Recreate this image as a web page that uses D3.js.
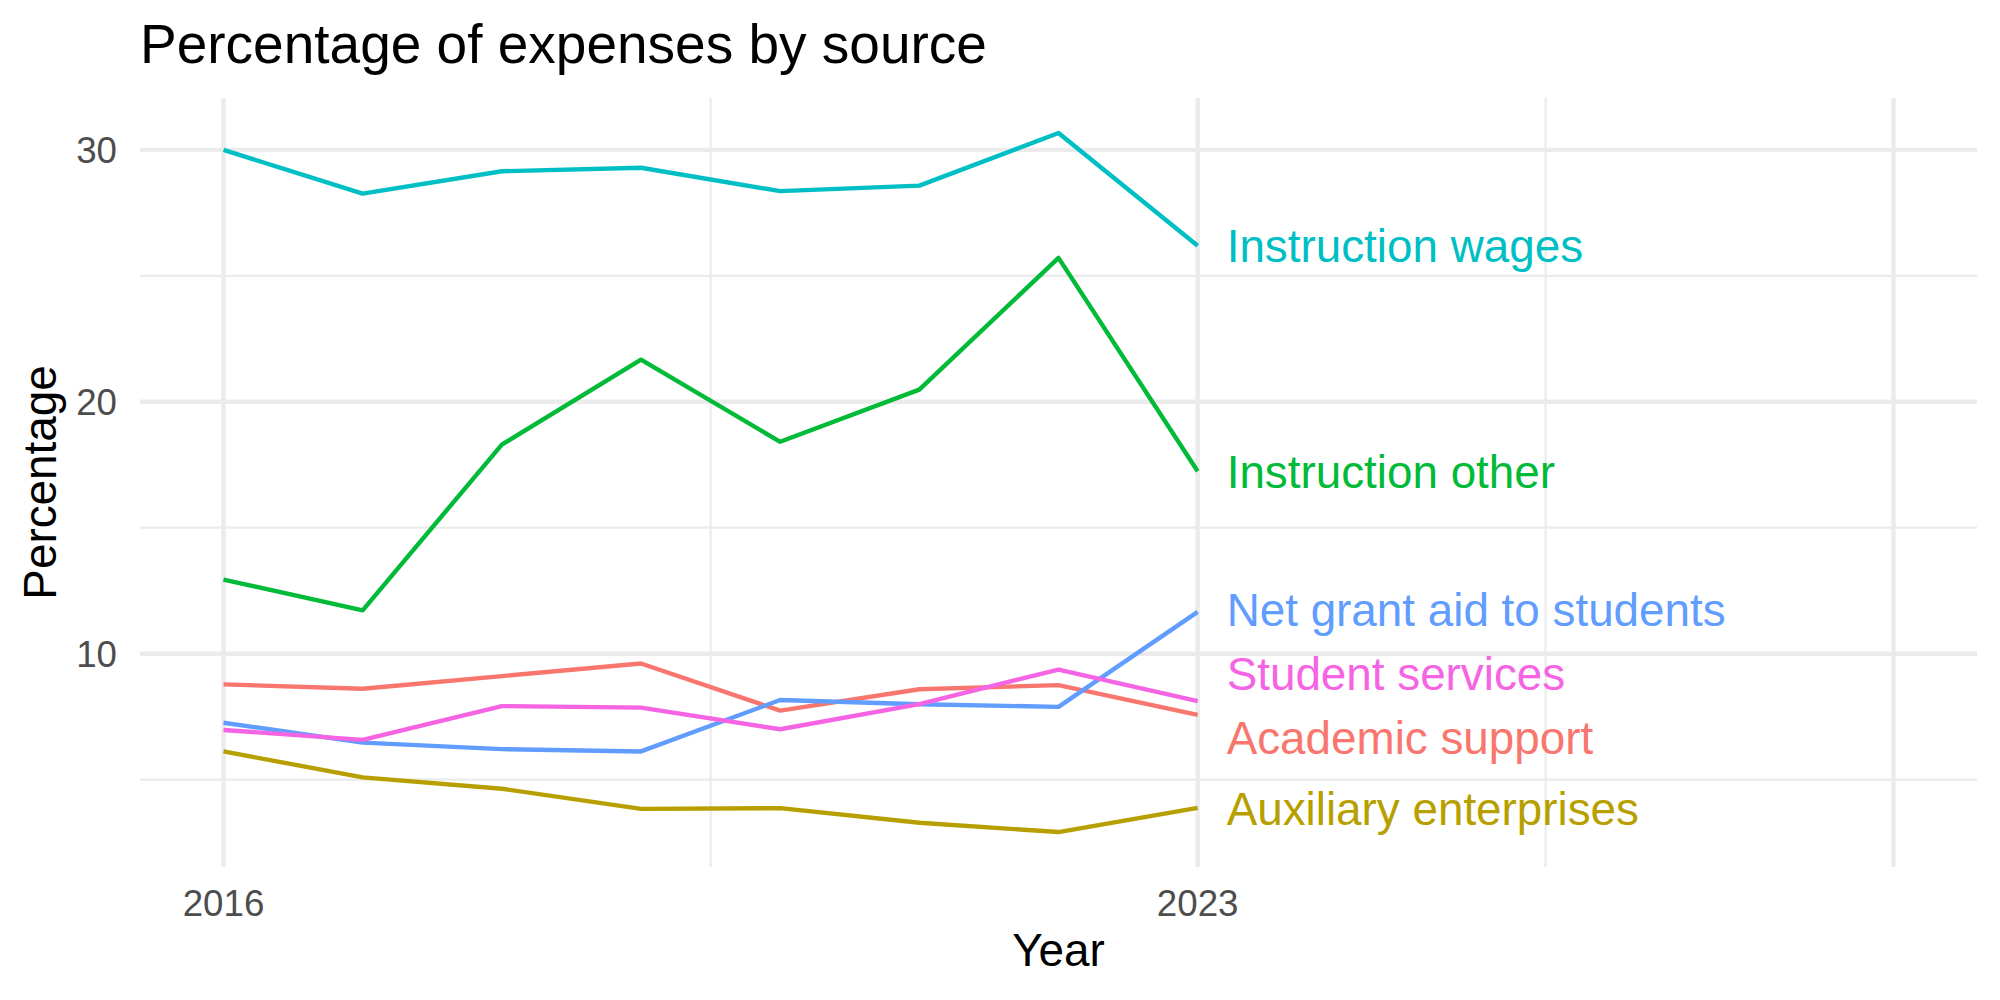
<!DOCTYPE html>
<html>
<head>
<meta charset="utf-8">
<script src="https://cdn.jsdelivr.net/npm/d3@7"></script>
<style>
  body { margin: 0; background: #fff; }
</style>
</head>
<body>
<div id="chart"></div>
<script>
// data
const years = [2016, 2017, 2018, 2019, 2020, 2021, 2022, 2023];
const sources = ["Academic support", "Auxiliary enterprises", "Instruction other",
                 "Instruction wages", "Net grant aid to students", "Student services"];
const academicSupport = [8.78, 8.61, 9.11, 9.61, 7.74, 8.59, 8.75, 7.57];
const auxiliaryEnterprises = [6.12, 5.09, 4.64, 3.84, 3.87, 3.29, 2.92, 3.88];
const instructionOther = [12.94, 11.72, 18.30, 21.67, 18.41, 20.48, 25.71, 17.24];
const instructionWages = [30.0, 28.26, 29.15, 29.29, 28.36, 28.58, 30.67, 26.19];
const netGrantAid = [7.26, 6.47, 6.21, 6.12, 8.16, 7.99, 7.89, 11.66];
const studentServices = [6.97, 6.58, 7.92, 7.86, 7.0, 8.0, 9.37, 8.12];
// where the end labels sit (value units, after repelling)
const labelY = [6.66, 3.84, 17.24, 26.19, 11.74, 9.22];
const colors = ["#F8766D", "#B79F00", "#00BA38", "#00BFC4", "#619CFF", "#F564E3"];

const yTicks = [10, 20, 30];
const yMinor = [5, 15, 25];
const xBreaks = [2016, 2023, 2028];
const xLabels = ["2016", "2023", ""];
const xMinor = [2019.5, 2025.5];
const xLimits = [2016, 2028];

const values = [academicSupport, auxiliaryEnterprises, instructionOther,
                instructionWages, netGrantAid, studentServices];
const series = sources.map((name, i) => ({
  name: name,
  color: colors[i],
  labelY: labelY[i],
  points: years.map((yr, j) => ({ year: yr, value: values[i][j] }))
}));

const width = 2000, height = 1000;
const margin = { top: 98, right: 23, bottom: 133, left: 140 };
const font = "'Liberation Sans', Arial, Helvetica, sans-serif";

const svg = d3.select("#chart")
  .append("svg")
  .attr("width", width)
  .attr("height", height)
  .attr("font-family", font);

// ggplot style 5% expansion
function expand(ext) {
  const pad = (ext[1] - ext[0]) * 0.05;
  return [ext[0] - pad, ext[1] + pad];
}

const x = d3.scaleLinear()
  .domain(expand(xLimits))
  .range([margin.left, width - margin.right]);

const y = d3.scaleLinear()
  .domain(expand(d3.extent(values.flat())))
  .range([height - margin.bottom, margin.top]);

const grid = svg.append("g");

// minor grid
grid.selectAll(".ymin").data(yMinor).enter().append("line")
  .attr("x1", x.range()[0]).attr("x2", x.range()[1])
  .attr("y1", d => y(d)).attr("y2", d => y(d))
  .attr("stroke", "#EBEBEB").attr("stroke-width", 2.2);

grid.selectAll(".xmin").data(xMinor).enter().append("line")
  .attr("x1", d => x(d)).attr("x2", d => x(d))
  .attr("y1", y.range()[0]).attr("y2", y.range()[1])
  .attr("stroke", "#EBEBEB").attr("stroke-width", 2.2);

// major grid
grid.selectAll(".ymaj").data(yTicks).enter().append("line")
  .attr("x1", x.range()[0]).attr("x2", x.range()[1])
  .attr("y1", d => y(d)).attr("y2", d => y(d))
  .attr("stroke", "#EBEBEB").attr("stroke-width", 4.4);

grid.selectAll(".xmaj").data(xBreaks).enter().append("line")
  .attr("x1", d => x(d)).attr("x2", d => x(d))
  .attr("y1", y.range()[0]).attr("y2", y.range()[1])
  .attr("stroke", "#EBEBEB").attr("stroke-width", 4.4);

// tick labels
svg.append("g").selectAll("text").data(yTicks).enter().append("text")
  .attr("x", margin.left - 23)
  .attr("y", d => y(d))
  .attr("dy", "0.36em")
  .attr("text-anchor", "end")
  .attr("font-size", 36.7)
  .attr("fill", "#4D4D4D")
  .text(d => d);

svg.append("g").selectAll("text").data(xBreaks).enter().append("text")
  .attr("x", d => x(d))
  .attr("y", 916)
  .attr("text-anchor", "middle")
  .attr("font-size", 36.7)
  .attr("fill", "#4D4D4D")
  .text((d, i) => xLabels[i]);

// lines
const line = d3.line()
  .x(d => x(d.year))
  .y(d => y(d.value));

svg.append("g").selectAll("path").data(series).enter().append("path")
  .attr("d", d => line(d.points))
  .attr("fill", "none")
  .attr("stroke", d => d.color)
  .attr("stroke-width", 4.4)
  .attr("stroke-linejoin", "round");

// end labels
const lastYear = years[years.length - 1];
svg.append("g").selectAll("text").data(series).enter().append("text")
  .attr("x", x(lastYear) + 29)
  .attr("y", d => y(d.labelY))
  .attr("dy", "0.36em")
  .attr("font-size", 45.8)
  .attr("fill", d => d.color)
  .text(d => d.name);

// axis titles
svg.append("text")
  .attr("x", (x.range()[0] + x.range()[1]) / 2)
  .attr("y", 966)
  .attr("text-anchor", "middle")
  .attr("font-size", 45.8)
  .attr("fill", "#000")
  .text("Year");

svg.append("text")
  .attr("transform", `translate(56,${(y.range()[0] + y.range()[1]) / 2}) rotate(-90)`)
  .attr("text-anchor", "middle")
  .attr("font-size", 45.8)
  .attr("fill", "#000")
  .text("Percentage");

// title
svg.append("text")
  .attr("x", margin.left)
  .attr("y", 63)
  .attr("font-size", 55)
  .attr("fill", "#000")
  .text("Percentage of expenses by source");
</script>
</body>
</html>
